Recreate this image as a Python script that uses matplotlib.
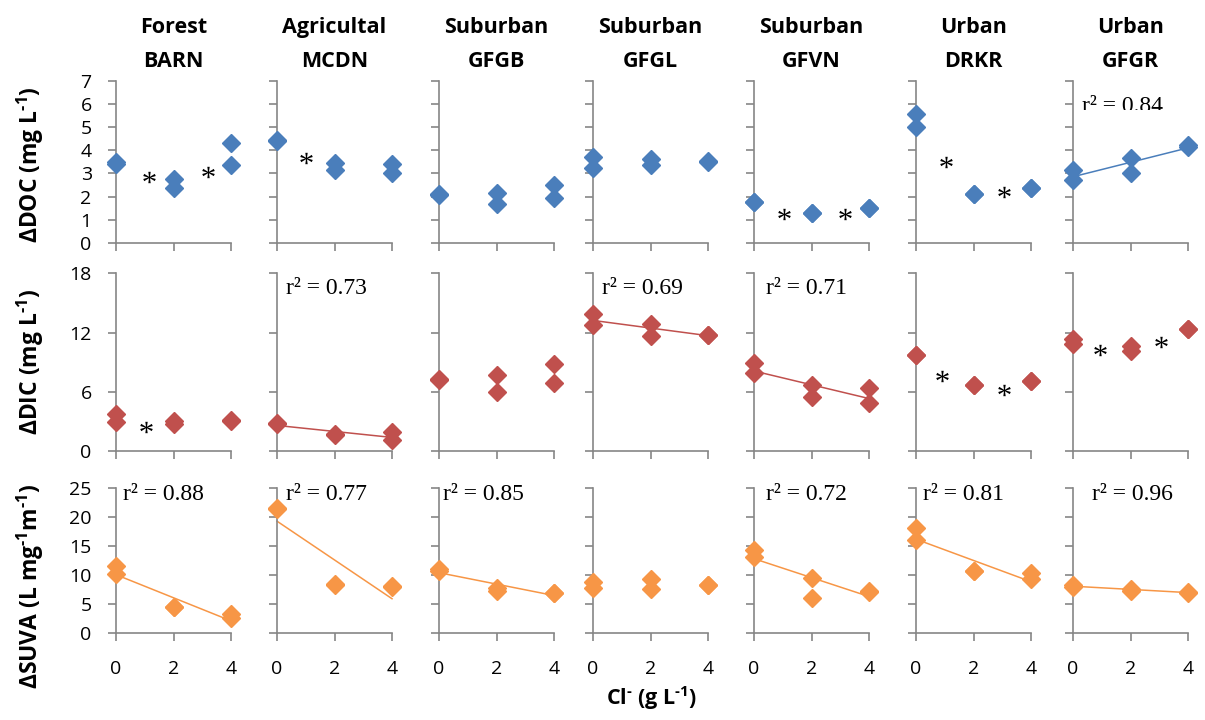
import numpy as np
import matplotlib
matplotlib.use('Agg')
import matplotlib.pyplot as plt
from matplotlib.patches import Rectangle
from matplotlib.textpath import TextPath
from matplotlib.font_manager import FontProperties
from matplotlib.path import Path

plt.rcParams['font.family'] = ['Open Sans', 'DejaVu Sans']
plt.rcParams['mathtext.fontset'] = 'custom'
plt.rcParams['mathtext.bf'] = 'Open Sans:bold'
plt.rcParams['mathtext.rm'] = 'Open Sans:bold'
plt.rcParams['mathtext.default'] = 'bf'

# land use / site of each column
land_use = ['Forest', 'Agricultal', 'Suburban', 'Suburban', 'Suburban', 'Urban', 'Urban']
site = ['BARN', 'MCDN', 'GFGB', 'GFGL', 'GFVN', 'DRKR', 'GFGR']

# Cl- dose of each replicate (g/L)
cl = [0, 0, 2, 2, 4, 4]

doc = [[3.40, 3.50, 2.76, 2.36, 4.30, 3.36],
       [4.41, 4.45, 3.44, 3.15, 3.41, 3.03],
       [2.05, 2.10, 2.14, 1.68, 2.50, 1.95],
       [3.69, 3.22, 3.62, 3.36, 3.50, 3.52],
       [1.78, 1.76, 1.28, 1.30, 1.52, 1.50],
       [5.56, 5.02, 2.10, 2.12, 2.36, 2.38],
       [3.15, 2.72, 3.65, 3.00, 4.23, 4.13]]

dic = [[3.75, 2.97, 3.00, 2.75, 3.07, 3.10],
       [2.70, 2.80, 1.62, 1.70, 1.96, 1.11],
       [7.20, 7.30, 7.70, 6.01, 8.81, 6.86],
       [13.88, 12.76, 12.86, 11.68, 11.75, 11.80],
       [8.95, 7.87, 6.69, 5.50, 6.41, 4.83],
       [9.72, 9.70, 6.69, 6.70, 7.09, 7.10],
       [11.31, 10.84, 10.64, 10.16, 12.36, 12.40]]

suva = [[11.53, 10.15, 4.50, 4.40, 3.27, 2.52],
        [21.45, 21.30, 8.20, 8.40, 7.97, 8.10],
        [11.00, 10.70, 7.69, 7.23, 6.95, 6.90],
        [8.83, 7.80, 9.29, 7.51, 8.26, 8.30],
        [14.28, 13.13, 9.41, 5.97, 7.30, 7.10],
        [18.12, 16.00, 10.67, 10.60, 10.27, 9.24],
        [8.20, 8.00, 7.50, 7.30, 7.10, 6.90]]

# r2 of the significant regressions (None = no line)
doc_r2 = [None, None, None, None, None, None, '0.84']
dic_r2 = [None, '0.73', None, '0.69', '0.71', None, None]
suva_r2 = ['0.88', '0.77', '0.85', None, '0.72', '0.81', '0.96']

# asterisks (significant differences between doses)
doc_star_x = [[1.15, 3.2], [1.0], [], [], [1.03, 3.17], [1.04, 3.05], []]
doc_star_y = [[2.85, 3.07], [3.65], [], [], [1.25, 1.25], [3.51, 2.21], []]
dic_star_x = [[1.04], [], [], [], [], [0.9, 3.05], [0.93, 3.06]]
dic_star_y = [[2.46], [], [], [], [], [7.6, 6.18], [10.23, 11.07]]
suva_star_x = [[], [], [], [], [], [], []]
suva_star_y = [[], [], [], [], [], [], []]

ylabels = [r'ΔDOC (mg L$^{\text{-}1}$)', r'ΔDIC (mg L$^{\text{-}1}$)',
           r'ΔSUVA (L mg$^{\text{-}1}$m$^{\text{-}1}$)']
xlabel = r'Cl$^{\text{-}}$ (g L$^{\text{-}1}$)'

# layout (pixels)
W, H = 1205, 720
lefts = [116, 277, 439, 593, 754, 916, 1073]
axw = 115
row_top = [80.7, 273.3, 487.7]
row_bot = [243, 451, 633]
ylab_y = [165, 362, 586]
r2_x = [[0.3] * 6 + [0.31],
        [0.3, 0.31, 0.3, 0.31, 0.42, 0.3, 0.3],
        [0.25, 0.31, 0.14, 0.3, 0.42, 0.25, 0.66]]
r2_y = [5.87, 16.5, 23.8]

colors = ['#4A7EBB', '#C0504D', '#F79646']
grey = '#868686'

# asterisk glyph as a marker
tp = TextPath((0, 0), '*', size=1, prop=FontProperties(family='Liberation Serif'))
v = tp.vertices.copy()
ok = tp.codes != Path.CLOSEPOLY
v -= (v[ok].min(axis=0) + v[ok].max(axis=0)) / 2
v[~ok] = 0
star = Path(v, tp.codes)

data = [doc, dic, suva]
r2s = [doc_r2, dic_r2, suva_r2]
sx = [doc_star_x, dic_star_x, suva_star_x]
sy = [doc_star_y, dic_star_y, suva_star_y]
ymax = [7, 18, 25]
ystep = [1, 6, 5]

fig = plt.figure(figsize=(W / 100, H / 100), dpi=100)

for r in range(3):
    for c in range(7):
        ax = fig.add_axes([lefts[c] / W, 1 - row_bot[r] / H, axw / W,
                           (row_bot[r] - row_top[r]) / H])
        col = colors[r]
        vals = data[r][c]
        ax.plot(cl, vals, ls='none', marker='D', ms=9.3, color=col,
                mec=col, clip_on=False, zorder=3)
        if r2s[r][c] is not None:
            fit = np.polyfit(cl, vals, 1)
            xx = np.array([min(cl), max(cl)])
            ax.plot(xx, np.polyval(fit, xx), color=col, lw=1.1,
                    clip_on=False, zorder=2)
            ax.text(r2_x[r][c], r2_y[r], 'r² = ' + r2s[r][c],
                    family='Liberation Serif', fontsize=17,
                    ha='left', va='center')
            if r == 0:
                # label is cut off at the bottom in the original
                ax.add_patch(Rectangle((0.15, 5.2), 3.7, 0.52, facecolor='white',
                                       edgecolor='none', zorder=5))
        if sx[r][c]:
            ax.plot(sx[r][c], sy[r][c], ls='none', marker=star, ms=9,
                    mfc='black', mec='black', mew=0, zorder=4)

        ax.set_xlim(0, 4)
        ax.set_ylim(0, ymax[r])
        ax.set_xticks([0, 2, 4])
        ax.set_yticks(np.arange(0, ymax[r] + 1, ystep[r]))
        for s in ['top', 'right']:
            ax.spines[s].set_visible(False)
        for s in ['left', 'bottom']:
            ax.spines[s].set_color(grey)
            ax.spines[s].set_linewidth(1.2)
        ax.tick_params(direction='out', length=5.5, width=1.2, color=grey,
                       labelsize=14)
        ax.tick_params(axis='y', pad=12)
        ax.tick_params(axis='x', pad=14)
        if c > 0:
            ax.tick_params(labelleft=False)
        if r < 2:
            ax.tick_params(labelbottom=False)
        ax.patch.set_alpha(0)

        if r == 0:
            cx = (lefts[c] + axw / 2) / W
            fig.text(cx, 1 - 33.3 / H, land_use[c], ha='center', va='baseline',
                     fontsize=15.5, fontweight='bold')
            fig.text(cx, 1 - 66.7 / H, site[c], ha='center', va='baseline',
                     fontsize=15.5, fontweight='bold')

    fig.text(30.5 / W, 1 - ylab_y[r] / H, ylabels[r], rotation=90,
             ha='center', va='center', fontsize=16.5, fontweight='bold')

fig.text(652 / W, 1 - 705 / H, xlabel, ha='center', va='baseline',
         fontsize=15.5, fontweight='bold')

fig.savefig('out.png', dpi=100)
